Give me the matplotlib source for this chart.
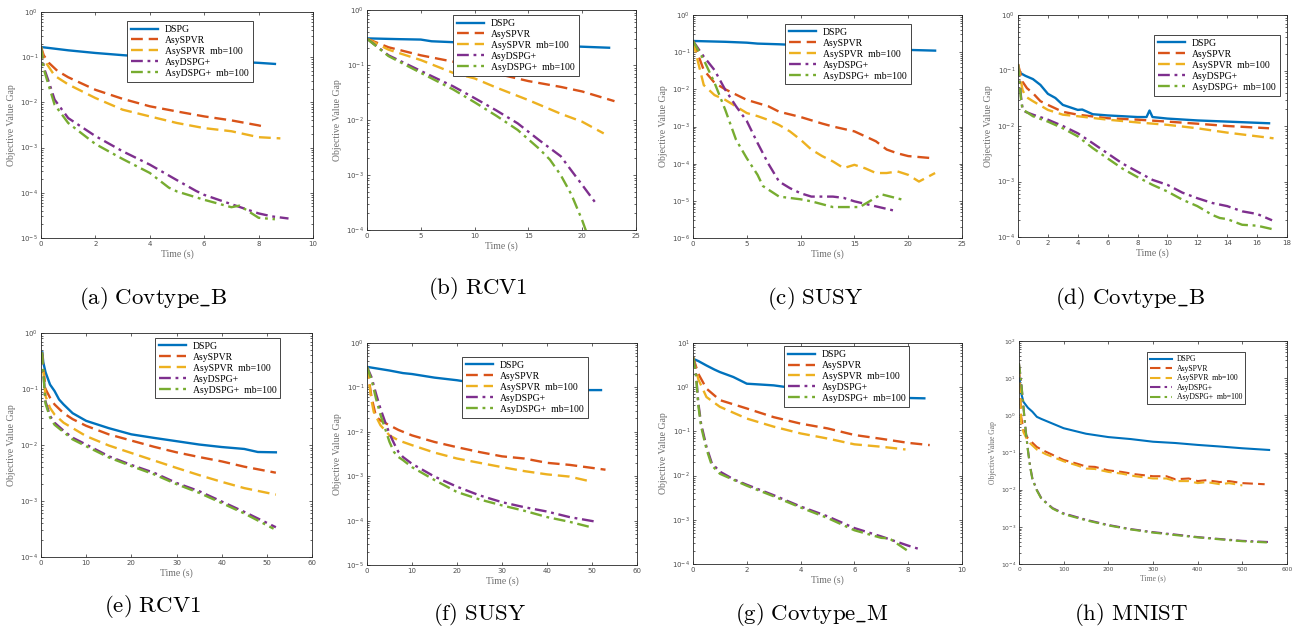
import numpy as np
import matplotlib
matplotlib.use("Agg")
import matplotlib.pyplot as plt
from matplotlib.ticker import LogLocator, NullFormatter

# MATLAB default line colours
C_BLUE = "#0072BD"
C_ORANGE = "#D95319"
C_YELLOW = "#EDB120"
C_PURPLE = "#7E2F8E"
C_GREEN = "#77AC30"

LABELS = ["DSPG", "AsySPVR", "AsySPVR  mb=100", "AsyDSPG+", "AsyDSPG+  mb=100"]
CAPTIONS = [r"(a)\ Covtype\_B", r"(b)\ RCV1", r"(c)\ SUSY", r"(d)\ Covtype\_B",
            r"(e)\ RCV1", r"(f)\ SUSY", r"(g)\ Covtype\_M", r"(h)\ MNIST"]

# (a) Covtype_B
A_T_DSPG = [0, 1, 2, 3, 4, 5, 6, 7, 8, 8.6]
A_Y_DSPG = [0.168, 0.142, 0.124, 0.111, 0.101, 0.093, 0.086, 0.08, 0.075, 0.071]
A_T_SPVR = [0, 0.1, 0.3, 0.6, 1, 2, 3, 4, 5, 6, 7, 8, 8.1]
A_Y_SPVR = [0.17, 0.11, 0.074, 0.05, 0.036, 0.019, 0.012, 0.0082, 0.0063, 0.0049, 0.004, 0.0031, 0.003]
A_T_SPVRMB = [0, 0.1, 0.5, 1, 2, 3, 4, 5, 6, 7, 8, 8.8]
A_Y_SPVRMB = [0.17, 0.09, 0.039, 0.025, 0.0125, 0.0069, 0.0049, 0.0035, 0.0027, 0.0023, 0.0017, 0.0016]
A_T_PLUS = [0, 0.1, 0.3, 0.5, 1, 2, 3, 4, 5, 5.7, 6, 7, 8, 8.5, 9.1]
A_Y_PLUS = [0.17, 0.06, 0.027, 0.0115, 0.0045, 0.0018, 0.00083, 0.00042, 0.00019, 0.00011,
            0.00009, 0.000056, 0.000035, 0.00003, 0.000027]
A_T_PLUSMB = [0, 0.1, 0.3, 0.5, 1, 2, 3, 4, 4.7, 5, 6, 7, 7.3, 8, 8.6]
A_Y_PLUSMB = [0.17, 0.055, 0.022, 0.0089, 0.0035, 0.0012, 0.00056, 0.000275, 0.00013, 0.000107,
              0.00007, 0.000048, 0.000052, 0.000028, 0.000026]

# (b) RCV1
B_T_DSPG = [0, 3, 5, 6, 8, 12, 16, 20, 22.5]
B_Y_DSPG = [0.305, 0.295, 0.29, 0.27, 0.26, 0.245, 0.23, 0.215, 0.206]
B_T_SPVR = [0, 2, 5, 8, 10, 12, 15, 18, 20, 23]
B_Y_SPVR = [0.3, 0.21, 0.15, 0.115, 0.09, 0.07, 0.051, 0.04, 0.033, 0.022]
B_T_SPVRMB = [0, 2, 5, 8, 10, 12, 15, 18, 20, 22]
B_Y_SPVRMB = [0.3, 0.19, 0.123, 0.072, 0.057, 0.039, 0.023, 0.013, 0.0093, 0.0057]
B_T_PLUS = [0, 2, 5, 8, 10, 12, 14, 16, 18, 19, 20, 21.3]
B_Y_PLUS = [0.3, 0.15, 0.078, 0.041, 0.025, 0.015, 0.0087, 0.0043, 0.0022, 0.0012, 0.00066, 0.0003]
B_T_PLUSMB = [0, 2, 5, 8, 10, 12, 14, 16, 17, 18, 19, 20, 20.5]
B_Y_PLUSMB = [0.3, 0.145, 0.072, 0.036, 0.021, 0.012, 0.0066, 0.003, 0.0019, 0.001, 0.00044, 0.00015, 0.00008]

# (c) SUSY
C_T_DSPG = [0, 3, 5, 6, 8, 12, 16, 20, 22.5]
C_Y_DSPG = [0.2, 0.19, 0.18, 0.17, 0.163, 0.145, 0.13, 0.115, 0.11]
C_T_SPVR = [0, 1, 2, 3, 5, 7, 8, 10, 12, 13, 15, 17, 18, 19, 20, 22.3]
C_Y_SPVR = [0.2, 0.033, 0.015, 0.01, 0.0052, 0.0035, 0.0025, 0.0018, 0.0012, 0.001, 0.00074,
            0.0004, 0.00024, 0.00019, 0.00016, 0.00014]
C_T_SPVRMB = [0, 0.5, 1, 2, 3, 5, 6, 7, 8, 9, 10, 11, 12, 13, 14, 15, 16, 17, 18, 19, 20, 21, 22.5]
C_Y_SPVRMB = [0.2, 0.05, 0.013, 0.007, 0.0052, 0.0023, 0.0019, 0.0015, 0.0011, 0.00074, 0.00044,
              0.00024, 0.00016, 0.000115, 0.000076, 0.000093, 0.000075, 0.000056, 0.000056,
              0.000062, 0.00005, 0.000033, 0.000056]
C_T_PLUS = [0, 1, 2, 3, 4, 5, 6, 7, 8, 9, 10, 11, 13, 14, 15, 17, 19]
C_Y_PLUS = [0.2, 0.076, 0.033, 0.0097, 0.0035, 0.0014, 0.00036, 0.0001, 0.000033, 0.000022,
            0.000016, 0.000013, 0.000013, 0.000012, 0.0000097, 0.0000071, 0.0000052]
C_T_PLUSMB = [0, 1, 2, 3, 4, 5, 6, 6.5, 8, 10, 11, 13, 15.5, 17.5, 19.5]
C_Y_PLUSMB = [0.2, 0.062, 0.015, 0.0028, 0.00044, 0.00014, 0.00005, 0.000025, 0.000013, 0.000011,
              0.0000097, 0.0000068, 0.0000068, 0.000015, 0.0000107]

# (d) Covtype_B
D_T_DSPG = [0, 0.5, 1, 1.5, 2, 2.5, 3, 4, 4.3, 5, 6, 7, 8, 8.6, 8.8, 9, 10, 12, 14, 16.8]
D_Y_DSPG = [0.095, 0.08, 0.07, 0.055, 0.038, 0.032, 0.024, 0.0195, 0.0198, 0.0163, 0.0155, 0.015,
            0.0145, 0.0145, 0.019, 0.0145, 0.0136, 0.0126, 0.012, 0.0112]
D_T_SPVR = [0, 0.3, 0.6, 1, 1.5, 2, 3, 4, 6, 8, 10, 12, 14, 16.8]
D_Y_SPVR = [0.13, 0.063, 0.048, 0.039, 0.028, 0.024, 0.018, 0.016, 0.0138, 0.013, 0.012, 0.011, 0.01, 0.0091]
D_T_SPVRMB = [0, 0.3, 0.5, 1, 2, 3, 4, 6, 8, 10, 12, 14, 17.1]
D_Y_SPVRMB = [0.13, 0.045, 0.034, 0.028, 0.0195, 0.016, 0.015, 0.013, 0.0116, 0.0105, 0.0091, 0.0076, 0.006]
D_T_PLUS = [0, 0.2, 0.3, 0.5, 1, 2, 3, 4, 5, 6, 7, 8, 9, 10, 11, 12, 13, 14, 15, 16, 17]
D_Y_PLUS = [0.13, 0.034, 0.021, 0.018, 0.016, 0.013, 0.01, 0.0074, 0.0049, 0.0032, 0.0021, 0.0015,
            0.00107, 0.00087, 0.00063, 0.0005, 0.00041, 0.00036, 0.00029, 0.00026, 0.0002]
D_T_PLUSMB = [0, 0.2, 0.3, 1, 2, 3, 4, 5, 6, 7, 8, 9, 10, 11, 12, 13, 13.5, 14, 15, 16, 17.2]
D_Y_PLUSMB = [0.13, 0.03, 0.02, 0.015, 0.012, 0.0091, 0.0065, 0.004, 0.0026, 0.0017, 0.0012, 0.00087,
              0.00066, 0.00047, 0.00036, 0.00025, 0.00022, 0.00021, 0.000166, 0.00016, 0.000135]

# (e) RCV1
E_T_DSPG = [0.3, 0.5, 1, 2, 3, 4, 5, 7, 10, 15, 20, 25, 30, 35, 40, 45, 48, 52]
E_Y_DSPG = [0.45, 0.3, 0.2, 0.12, 0.092, 0.065, 0.053, 0.037, 0.027, 0.02, 0.0155, 0.0134, 0.0117,
            0.0102, 0.0092, 0.0085, 0.0075, 0.0074]
E_T_SPVR = [0.2, 1, 2, 3, 5, 7, 10, 15, 20, 25, 30, 35, 40, 45, 52]
E_Y_SPVR = [0.45, 0.1, 0.07, 0.053, 0.037, 0.029, 0.022, 0.0155, 0.012, 0.0093, 0.0074, 0.0061,
            0.0051, 0.0041, 0.0032]
E_T_SPVRMB = [0.2, 1, 2, 3, 5, 10, 15, 20, 25, 30, 35, 40, 45, 52]
E_Y_SPVRMB = [0.45, 0.075, 0.046, 0.035, 0.025, 0.0144, 0.0098, 0.0072, 0.0053, 0.0039, 0.0029,
              0.0022, 0.0017, 0.0013]
E_T_PLUS = [0.2, 1, 2, 3, 5, 7, 10, 15, 20, 25, 30, 35, 40, 45, 52]
E_Y_PLUS = [0.45, 0.06, 0.033, 0.025, 0.018, 0.0135, 0.0102, 0.0063, 0.0044, 0.0032, 0.0021,
            0.0015, 0.00098, 0.00064, 0.00034]
E_T_PLUSMB = [0.2, 1, 2, 3, 5, 7, 10, 15, 20, 25, 30, 35, 40, 45, 51.5]
E_Y_PLUSMB = [0.45, 0.055, 0.031, 0.023, 0.017, 0.0126, 0.0095, 0.006, 0.0042, 0.003, 0.002,
              0.0014, 0.00092, 0.0006, 0.00032]

# (f) SUSY
F_T_DSPG = [0, 5, 8, 10, 15, 20, 23, 30, 40, 48, 52]
F_Y_DSPG = [0.29, 0.24, 0.21, 0.2, 0.166, 0.145, 0.13, 0.115, 0.1, 0.087, 0.087]
F_T_SPVR = [0, 1, 2, 3, 5, 7, 10, 15, 20, 25, 30, 35, 40, 45, 53]
F_Y_SPVR = [0.29, 0.06, 0.022, 0.018, 0.014, 0.011, 0.0083, 0.0059, 0.0045, 0.0035, 0.0028,
            0.0025, 0.002, 0.0018, 0.0014]
F_T_SPVRMB = [0, 1, 1.5, 3, 5, 7, 10, 15, 20, 25, 30, 35, 40, 45, 50]
F_Y_SPVRMB = [0.29, 0.051, 0.028, 0.014, 0.0083, 0.0064, 0.005, 0.0034, 0.0025, 0.002, 0.0016,
              0.0013, 0.0011, 0.00098, 0.00075]
F_T_PLUS = [0, 1, 2, 3, 4, 5, 6, 7, 8, 10, 15, 20, 25, 30, 35, 40, 45, 51]
F_Y_PLUS = [0.29, 0.17, 0.072, 0.033, 0.017, 0.0091, 0.0055, 0.0035, 0.0027, 0.0019, 0.00098,
            0.00058, 0.00037, 0.00026, 0.0002, 0.00016, 0.00012, 0.000094]
F_T_PLUSMB = [0, 1, 2, 3, 4, 5, 6, 7, 8, 10, 15, 20, 25, 30, 35, 40, 45, 50]
F_Y_PLUSMB = [0.29, 0.15, 0.056, 0.024, 0.012, 0.0059, 0.0035, 0.0027, 0.0023, 0.0016, 0.00082,
              0.00044, 0.0003, 0.00022, 0.000166, 0.00012, 0.000094, 0.00007]

# (g) Covtype_M
G_T_DSPG = [0, 0.2, 0.5, 0.8, 1, 1.5, 2, 2.5, 3, 3.5, 5, 6.5, 8, 8.6]
G_Y_DSPG = [4.4, 3.9, 3.1, 2.5, 2.2, 1.7, 1.2, 1.15, 1.1, 1.0, 0.85, 0.7, 0.57, 0.56]
G_T_SPVR = [0, 0.2, 0.5, 1, 2, 3, 4, 5, 6, 7, 8, 8.8]
G_Y_SPVR = [4.8, 2.0, 0.93, 0.51, 0.33, 0.21, 0.15, 0.117, 0.083, 0.068, 0.055, 0.049]
G_T_SPVRMB = [0, 0.2, 0.5, 1, 2, 3, 4, 5, 6, 7, 7.9]
G_Y_SPVRMB = [4.8, 1.5, 0.6, 0.36, 0.195, 0.128, 0.09, 0.069, 0.051, 0.045, 0.039]
G_T_PLUS = [0, 0.1, 0.2, 0.3, 0.5, 0.7, 1, 1.5, 2, 3, 4, 5, 6, 7, 8, 8.5]
G_Y_PLUS = [4.8, 2.4, 0.43, 0.15, 0.045, 0.019, 0.0123, 0.0083, 0.0062, 0.0036, 0.002, 0.0012,
            0.00065, 0.00042, 0.00026, 0.00021]
G_T_PLUSMB = [0, 0.1, 0.2, 0.3, 0.5, 0.7, 1, 2, 3, 4, 5, 6, 7, 7.3, 8]
G_Y_PLUSMB = [4.8, 2.2, 0.38, 0.13, 0.04, 0.017, 0.011, 0.0059, 0.0034, 0.0019, 0.0011, 0.00058,
              0.00039, 0.00038, 0.000195]

# (h) MNIST
H_T_DSPG = [0, 2, 5, 10, 20, 30, 40, 50, 75, 100, 150, 200, 250, 300, 350, 400, 450, 500, 560]
H_Y_DSPG = [14.8, 8, 3.9, 2.3, 1.6, 1.25, 0.91, 0.8, 0.6, 0.45, 0.32, 0.26, 0.23, 0.195, 0.18,
            0.16, 0.145, 0.13, 0.117]
H_T_SPVR = [0, 5, 10, 20, 40, 60, 100, 130, 150, 170, 200, 230, 260, 300, 330, 350, 380, 400,
            420, 450, 470, 500, 550]
H_Y_SPVR = [20, 0.9, 0.4, 0.24, 0.14, 0.105, 0.063, 0.05, 0.042, 0.041, 0.033, 0.03, 0.026, 0.023,
            0.023, 0.019, 0.02, 0.017, 0.018, 0.016, 0.017, 0.015, 0.014]
H_T_SPVRMB = [0, 5, 10, 20, 40, 60, 100, 130, 150, 170, 200, 230, 260, 300, 330, 350, 380, 400,
              420, 450, 470, 500]
H_Y_SPVRMB = [20, 0.6, 0.35, 0.2, 0.12, 0.09, 0.058, 0.045, 0.037, 0.036, 0.03, 0.027, 0.023,
              0.02, 0.02, 0.017, 0.017, 0.015, 0.016, 0.014, 0.015, 0.013]
H_T_PLUS = [0, 5, 10, 15, 20, 25, 30, 40, 50, 75, 100, 150, 200, 250, 300, 350, 400, 450, 500, 560]
H_Y_PLUS = [25, 8, 1.7, 0.4, 0.117, 0.042, 0.02, 0.0098, 0.0059, 0.0032, 0.0023, 0.00155, 0.00112,
            0.00087, 0.00072, 0.00062, 0.00053, 0.00047, 0.00042, 0.00039]
H_T_PLUSMB = [0, 5, 10, 15, 20, 25, 30, 40, 50, 75, 100, 150, 200, 250, 300, 350, 400, 450, 500, 555]
H_Y_PLUSMB = [25, 7.5, 1.6, 0.38, 0.112, 0.04, 0.019, 0.0095, 0.0057, 0.0031, 0.0022, 0.0015,
              0.00109, 0.00085, 0.0007, 0.0006, 0.00052, 0.00046, 0.00041, 0.00038]

# panel layout in pixels: left, right, top, bottom (figure is 1300 x 632)
BOXES = [(41, 313, 12, 238), (367, 636, 10, 230), (693, 962, 15, 238), (1018, 1287, 15, 237),
         (41, 312, 333, 557), (367, 637, 343, 565), (693, 962, 343, 564), (1019, 1287, 341, 564)]
CAP_POS = [(153, 298), (478, 288), (815, 298), (1130, 298),
           (152, 606), (479, 615), (812, 615), (1131, 615)]
XLIMS = [(0, 10), (0, 25), (0, 25), (0, 18), (0, 60), (0, 60), (0, 10), (0, 600)]
XSTEPS = [2, 5, 5, 2, 10, 10, 2, 100]
YLIMS = [(1e-5, 1), (1e-4, 1), (1e-6, 1), (1e-4, 1), (1e-4, 1), (1e-5, 1), (1e-4, 10), (1e-4, 100)]
LEG_ANCHOR = [(0.316, 0.96), (0.32, 0.977), (0.342, 0.96), (0.506, 0.91),
              (0.42, 0.978), (0.352, 0.937), (0.338, 0.986), (0.478, 0.95)]

DATA = [
    [(A_T_DSPG, A_Y_DSPG), (A_T_SPVR, A_Y_SPVR), (A_T_SPVRMB, A_Y_SPVRMB), (A_T_PLUS, A_Y_PLUS), (A_T_PLUSMB, A_Y_PLUSMB)],
    [(B_T_DSPG, B_Y_DSPG), (B_T_SPVR, B_Y_SPVR), (B_T_SPVRMB, B_Y_SPVRMB), (B_T_PLUS, B_Y_PLUS), (B_T_PLUSMB, B_Y_PLUSMB)],
    [(C_T_DSPG, C_Y_DSPG), (C_T_SPVR, C_Y_SPVR), (C_T_SPVRMB, C_Y_SPVRMB), (C_T_PLUS, C_Y_PLUS), (C_T_PLUSMB, C_Y_PLUSMB)],
    [(D_T_DSPG, D_Y_DSPG), (D_T_SPVR, D_Y_SPVR), (D_T_SPVRMB, D_Y_SPVRMB), (D_T_PLUS, D_Y_PLUS), (D_T_PLUSMB, D_Y_PLUSMB)],
    [(E_T_DSPG, E_Y_DSPG), (E_T_SPVR, E_Y_SPVR), (E_T_SPVRMB, E_Y_SPVRMB), (E_T_PLUS, E_Y_PLUS), (E_T_PLUSMB, E_Y_PLUSMB)],
    [(F_T_DSPG, F_Y_DSPG), (F_T_SPVR, F_Y_SPVR), (F_T_SPVRMB, F_Y_SPVRMB), (F_T_PLUS, F_Y_PLUS), (F_T_PLUSMB, F_Y_PLUSMB)],
    [(G_T_DSPG, G_Y_DSPG), (G_T_SPVR, G_Y_SPVR), (G_T_SPVRMB, G_Y_SPVRMB), (G_T_PLUS, G_Y_PLUS), (G_T_PLUSMB, G_Y_PLUSMB)],
    [(H_T_DSPG, H_Y_DSPG), (H_T_SPVR, H_Y_SPVR), (H_T_SPVRMB, H_Y_SPVRMB), (H_T_PLUS, H_Y_PLUS), (H_T_PLUSMB, H_Y_PLUSMB)],
]

COLORS = [C_BLUE, C_ORANGE, C_YELLOW, C_PURPLE, C_GREEN]
STYLES = ["-", (0, (5, 2.5)), (0, (5, 2.5)), (0, (5, 2, 1.2, 2)), (0, (5, 2, 1.2, 2))]

W, H = 1300, 632
fig = plt.figure(figsize=(W / 100, H / 100), dpi=100)

for i in range(8):
    l, r, t, b = BOXES[i]
    ax = fig.add_axes([l / W, 1 - b / H, (r - l) / W, (b - t) / H])
    small = (i == 7)
    for (tx, ty), c, ls, lab in zip(DATA[i], COLORS, STYLES, LABELS):
        ax.plot(tx, ty, color=c, linestyle=ls, lw=1.5 if small else 1.7, label=lab)
    ax.set_yscale("log")
    ax.set_xlim(*XLIMS[i])
    ax.set_ylim(*YLIMS[i])
    ax.set_xticks(np.arange(XLIMS[i][0], XLIMS[i][1] + 0.01, XSTEPS[i]))
    ax.yaxis.set_major_locator(LogLocator(base=10, numticks=12))
    ax.yaxis.set_minor_locator(LogLocator(base=10, subs=np.arange(2, 10), numticks=12))
    ax.yaxis.set_minor_formatter(NullFormatter())
    tsz = 4.3 if small else 5
    ax.tick_params(which="both", direction="in", top=True, right=True, colors="#262626",
                   labelcolor="#4d4d4d", labelsize=tsz, width=0.5)
    ax.tick_params(which="major", length=2.5, pad=2)
    ax.tick_params(which="minor", length=1.3)
    for s in ax.spines.values():
        s.set_color("#262626")
        s.set_linewidth(0.6)
    lsz = 5.5 if small else 7
    ax.set_xlabel("Time (s)", family="Liberation Serif", fontsize=lsz, color="#6e6e6e", labelpad=2)
    ax.set_ylabel("Objective Value Gap", family="Liberation Serif", fontsize=lsz, color="#6e6e6e",
                  labelpad=3)
    leg = ax.legend(loc="upper left", bbox_to_anchor=LEG_ANCHOR[i], borderaxespad=0,
                    prop={"family": "Liberation Serif", "size": 5.5 if small else 7},
                    handlelength=2.8, handletextpad=0.7, labelspacing=0.2, borderpad=0.4,
                    fancybox=False, framealpha=1, edgecolor="#262626")
    leg.get_frame().set_linewidth(0.6)
    cx, cy = CAP_POS[i]
    fig.text(cx / W, 1 - cy / H, r"$\mathrm{" + CAPTIONS[i] + "}$", math_fontfamily="cm",
             fontsize=16.5, ha="center", va="center")

fig.savefig("out.png", dpi=100)
